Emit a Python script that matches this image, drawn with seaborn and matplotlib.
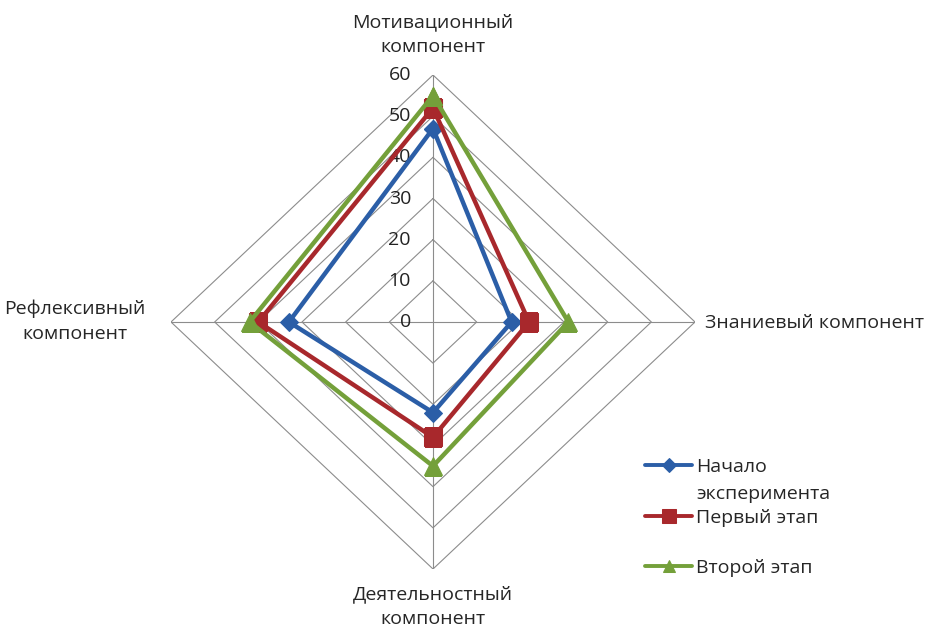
import numpy as np
import pandas as pd
import matplotlib
matplotlib.use("Agg")
import matplotlib.pyplot as plt
import matplotlib.transforms as mtransforms
import seaborn as sns

categories = ["Мотивационный\nкомпонент", "Знаниевый компонент",
              "Деятельностный\nкомпонент", "Рефлексивный\nкомпонент"]
series_names = ["Начало\nэксперимента", "Первый этап\n", "Второй этап"]
start_vals = [47, 18, 22, 33]
stage1_vals = [52, 22, 28, 40]
stage2_vals = [55, 31, 35, 42]
rings = [10, 20, 30, 40, 50, 60]
tick_labels = ["0", "10", "20", "30", "40", "50", "60"]

colors = ["#2B5EA7", "#A8282C", "#74A03A"]
markers = ["D", "s", "^"]
msizes = [9, 13, 13]
leg_msizes = [7, 10, 9]

sns.set_style("white")
plt.rcParams['font.family'] = ['Open Sans', 'DejaVu Sans']

fig = plt.figure(figsize=(9.28, 6.28), dpi=100)
ax = fig.add_axes([171 / 928, 59 / 628, 524 / 928, 494 / 628], projection='polar')
ax.set_aspect('auto')
ax.set_theta_zero_location('N')
ax.set_theta_direction(-1)

n = len(categories)
angles = np.linspace(0, 2 * np.pi, n + 1)

# grid
for r in rings:
    ax.plot(angles, [r] * (n + 1), color="#8C8C8C", lw=0.8, zorder=1)
for a in angles[:-1]:
    ax.plot([a, a], [0, rings[-1]], color="#8C8C8C", lw=0.8, zorder=1)

rows = []
for name, vals in zip(series_names, [start_vals, stage1_vals, stage2_vals]):
    closed = list(vals) + [vals[0]]
    for i, (a, v) in enumerate(zip(angles, closed)):
        rows.append({"series": name, "theta": a, "value": v, "order": i})
df = pd.DataFrame(rows)

for name, c, m, ms in zip(series_names, colors, markers, msizes):
    sub = df[df["series"] == name]
    sns.lineplot(data=sub, x="theta", y="value", sort=False, ax=ax,
                 color=c, lw=3.2, marker=m, markersize=ms,
                 markeredgecolor=c, label=name, zorder=3)

ax.set_ylim(0, 60)
ax.set_xticks([])
ax.set_yticks([])
ax.grid(False)
ax.spines['polar'].set_visible(False)
ax.set_xlabel("")
ax.set_ylabel("")

# radial tick labels
off = mtransforms.offset_copy(ax.transData, fig=fig, x=-22, y=0, units='dots')
for lab in tick_labels:
    ax.text(0, float(lab), lab, transform=off, ha='right', va='center',
            fontsize=14, color="#222222", zorder=2)

# category labels
fig.text(433 / 928, 1 - 35 / 628, categories[0], ha='center', va='center',
         fontsize=14, linespacing=1.5)
fig.text(705 / 928, 1 - 323 / 628, categories[1], ha='left', va='center',
         fontsize=14)
fig.text(433 / 928, 1 - 607 / 628, categories[2], ha='center', va='center',
         fontsize=14, linespacing=1.5)
fig.text(75 / 928, 1 - 321 / 628, categories[3], ha='center', va='center',
         fontsize=14, linespacing=1.5)

leg = ax.legend(loc='upper left', bbox_to_anchor=(628 / 928, 1 - 441 / 628),
                bbox_transform=fig.transFigure, frameon=False, fontsize=14,
                handlelength=2.4, handletextpad=0.2, labelspacing=0.3)
for t in leg.get_texts():
    t.set_linespacing(1.6)
for h, ms in zip(leg.legend_handles, leg_msizes):
    h.set_markersize(ms)
    h.set_linewidth(2.8)
for col in leg._legend_handle_box.get_children():
    for row in col.get_children():
        row.align = "top"

fig.savefig("out.png", dpi=100, facecolor="white")
